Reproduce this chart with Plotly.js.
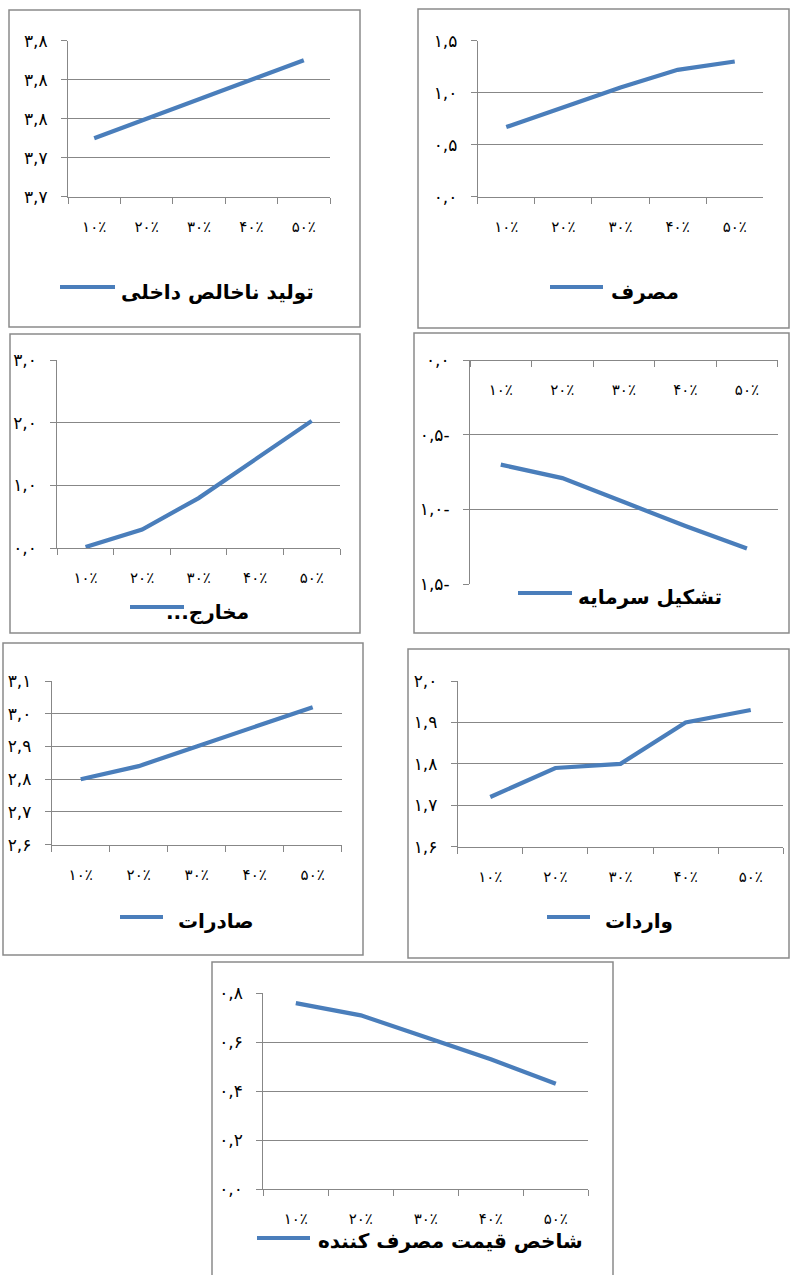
<!DOCTYPE html>
<html>
<head>
<meta charset="utf-8">
<script src="https://cdn.plot.ly/plotly-3.0.1.min.js"></script>
<style>html,body{margin:0;padding:0;background:#fff;}#chart{width:790px;height:1275px;}</style>
</head>
<body>
<div id="chart"></div>
<script>
// ---------- data ----------
const categories = ['۱۰٪', '۲۰٪', '۳۰٪', '۴۰٪', '۵۰٪'];

const seriesNames = ['تولید ناخالص داخلی', 'مصرف', '...مخارج', 'تشکیل سرمایه', 'صادرات', 'واردات', 'شاخص قیمت مصرف کننده'];

const gdpValues = [3.75, 3.76, 3.77, 3.78, 3.79];
const consumptionValues = [0.67, 0.86, 1.05, 1.22, 1.30];
const spendingValues = [0.02, 0.30, 0.80, 1.42, 2.03];
const capitalValues = [-0.70, -0.79, -0.95, -1.11, -1.26];
const exportValues = [2.80, 2.84, 2.90, 2.96, 3.02];
const importValues = [1.72, 1.79, 1.80, 1.90, 1.93];
const cpiValues = [0.76, 0.71, 0.62, 0.53, 0.43];

const gdpTicks = [3.72, 3.74, 3.76, 3.78, 3.80];
const gdpTickText = ['۳,۷', '۳,۷', '۳,۸', '۳,۸', '۳,۸'];
const consumptionTicks = [0, 0.5, 1.0, 1.5];
const consumptionTickText = ['۰,۰', '۰,۵', '۱,۰', '۱,۵'];
const spendingTicks = [0, 1, 2, 3];
const spendingTickText = ['۰,۰', '۱,۰', '۲,۰', '۳,۰'];
const capitalTicks = [-1.5, -1.0, -0.5, 0];
const capitalTickText = ['۱,۵-', '۱,۰-', '۰,۵-', '۰,۰'];
const exportTicks = [2.6, 2.7, 2.8, 2.9, 3.0, 3.1];
const exportTickText = ['۲,۶', '۲,۷', '۲,۸', '۲,۹', '۳,۰', '۳,۱'];
const importTicks = [1.6, 1.7, 1.8, 1.9, 2.0];
const importTickText = ['۱,۶', '۱,۷', '۱,۸', '۱,۹', '۲,۰'];
const cpiTicks = [0, 0.2, 0.4, 0.6, 0.8];
const cpiTickText = ['۰,۰', '۰,۲', '۰,۴', '۰,۶', '۰,۸'];

const allValues = [gdpValues, consumptionValues, spendingValues, capitalValues, exportValues, importValues, cpiValues];
const allTicks = [gdpTicks, consumptionTicks, spendingTicks, capitalTicks, exportTicks, importTicks, cpiTicks];
const allTickText = [gdpTickText, consumptionTickText, spendingTickText, capitalTickText, exportTickText, importTickText, cpiTickText];

// ---------- layout geometry (pixels) ----------
const W = 790, H = 1275;
const panels = [
  {plot:[68,330,40.7,196.7],   box:[9,360,10,327],      leg:[60,115,287],   txt:[119,292], top:false},
  {plot:[477.7,763.3,40.7,196.7], box:[418,789,9,328],  leg:[550,603,287],  txt:[609,292], top:false},
  {plot:[57.3,340,360,548.3],  box:[10,360,334,633],    leg:[130,184,607],  txt:[164,612], top:false},
  {plot:[470,777.7,360,584.3], box:[414,789,333,633],   leg:[518,572,593],  txt:[576,597], top:true},
  {plot:[51.7,341.7,681,844.7], box:[3,363,643,955],    leg:[120,163,917],  txt:[176,921], top:false},
  {plot:[457.7,783.3,681,846.7], box:[408,789,649,958], leg:[547,590,917],  txt:[603,921], top:false},
  {plot:[263.3,588.3,993.3,1189], box:[212,613,962,1280], leg:[257,310,1238], txt:[316,1241], top:false}
];

const lineColor = '#4a7ebb';
const gridColor = '#878787';
const fx = p => p / W;
const fy = p => 1 - p / H;

const data = [];
const layout = {
  width: W, height: H,
  margin: {l:0, r:0, t:0, b:0},
  paper_bgcolor: '#fff', plot_bgcolor: 'rgba(0,0,0,0)',
  showlegend: false,
  font: {family: 'DejaVu Sans', color: '#000'},
  shapes: [], annotations: []
};

panels.forEach((p, i) => {
  const n = i === 0 ? '' : String(i + 1);
  data.push({
    type: 'scatter', mode: 'lines',
    x: categories, y: allValues[i],
    name: seriesNames[i],
    xaxis: 'x' + n, yaxis: 'y' + n,
    line: {color: lineColor, width: 4.2},
    hoverinfo: 'x+y'
  });
  const ticks = allTicks[i];
  const xa = {
    domain: [fx(p.plot[0]), fx(p.plot[1])],
    type: 'category', categoryorder: 'array', categoryarray: categories,
    range: [-0.5, 4.5],
    tickson: 'boundaries', ticks: 'outside', ticklen: 6, tickcolor: gridColor, tickwidth: 1,
    showgrid: false, zeroline: false,
    showline: true, linecolor: gridColor, linewidth: 1,
    tickfont: {family: 'DejaVu Sans', size: 15, color: '#000'},
    ticklabelstandoff: 16,
    fixedrange: true
  };
  if (p.top) {
    xa.anchor = 'free';
    xa.position = fy(p.plot[2]);
    xa.ticklabelstandoff = 16;
  } else {
    xa.anchor = 'y' + n;
  }
  const ya = {
    domain: [fy(p.plot[3]), fy(p.plot[2])],
    anchor: 'x' + n,
    range: [ticks[0], ticks[ticks.length - 1]],
    tickmode: 'array', tickvals: ticks, ticktext: allTickText[i],
    showgrid: true, gridcolor: gridColor, gridwidth: 1,
    zeroline: false,
    showline: true, linecolor: gridColor, linewidth: 1,
    ticks: 'outside', ticklen: 6, tickcolor: gridColor,
    tickfont: {family: 'DejaVu Sans', size: 17, color: '#000'},
    ticklabelstandoff: 10,
    fixedrange: true
  };
  layout['xaxis' + n] = xa;
  layout['yaxis' + n] = ya;

  // panel border
  layout.shapes.push({
    type: 'rect', xref: 'paper', yref: 'paper',
    x0: fx(p.box[0]), x1: fx(p.box[1]), y0: fy(p.box[3]), y1: fy(p.box[2]),
    line: {color: '#8a8a8a', width: 1.5}, fillcolor: 'rgba(0,0,0,0)', layer: 'below'
  });
  // legend swatch
  layout.shapes.push({
    type: 'line', xref: 'paper', yref: 'paper',
    x0: fx(p.leg[0]), x1: fx(p.leg[1]), y0: fy(p.leg[2]), y1: fy(p.leg[2]),
    line: {color: lineColor, width: 4.2}
  });
  // legend text
  layout.annotations.push({
    xref: 'paper', yref: 'paper',
    x: fx(p.txt[0]), y: fy(p.txt[1]),
    xanchor: 'left', yanchor: 'middle',
    text: '<b>' + seriesNames[i] + '</b>',
    showarrow: false,
    font: {family: 'DejaVu Sans', size: 20, color: '#000'}
  });
});

Plotly.newPlot('chart', data, layout, {displayModeBar: false, staticPlot: true});
</script>
</body>
</html>
